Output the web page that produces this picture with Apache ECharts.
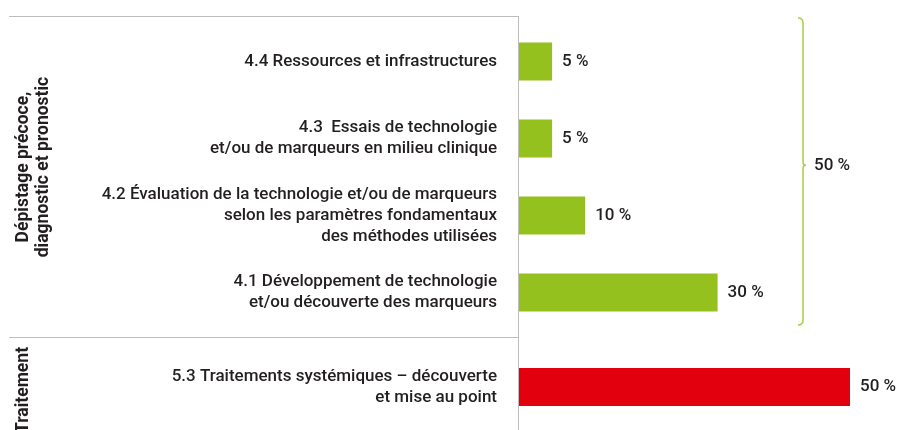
<!DOCTYPE html>
<html>
<head>
<meta charset="utf-8">
<script src="https://cdn.jsdelivr.net/npm/echarts@6/dist/echarts.min.js"></script>
<style>
  html, body { margin: 0; padding: 0; background: #fff; }
  #chart { width: 898px; height: 430px; }
</style>
</head>
<body>
<div id="chart"></div>
<script>
// données
var depistageCategories = [
    '4.4 Ressources et infrastructures',
    '4.3  Essais de technologie\net/ou de marqueurs en milieu clinique',
    '4.2 Évaluation de la technologie et/ou de marqueurs\nselon les paramètres fondamentaux\ndes méthodes utilisées',
    '4.1 Développement de technologie\net/ou découverte des marqueurs'
];
var depistageValues = [5, 5, 10, 30];
var traitementCategories = ['5.3 Traitements systémiques – découverte\net mise au point'];
var traitementValues = [50];
var groupNames = ['Dépistage précoce,\ndiagnostic et pronostic', 'Traitement'];
var depistageTotal = 50;

var GREEN = '#95c11f';
var RED = '#e2000f';
var BRACE = '#a6cf4a';
var TEXT = '#231f20';
var LINE = '#bdbdbd';
var FONT = 'Roboto';

var myChart = echarts.init(document.getElementById('chart'));

var labelStyle = {
    fontFamily: FONT,
    fontSize: 17,
    fontWeight: 500,
    color: TEXT,
    lineHeight: 21
};

function catAxis(idx, cats, name, gap, pad) {
    return {
        type: 'category',
        gridIndex: idx,
        inverse: true,
        data: cats,
        axisLine: { show: false },
        axisTick: { show: false },
        axisLabel: Object.assign({ margin: 22, align: 'right' }, labelStyle),
        name: name,
        nameLocation: 'middle',
        nameRotate: 90,
        nameGap: gap,
        nameTextStyle: {
            fontFamily: FONT,
            fontSize: 17.5,
            fontWeight: 'bold',
            color: TEXT,
            lineHeight: 20,
            padding: pad
        }
    };
}

function valAxis(idx) {
    return {
        type: 'value',
        gridIndex: idx,
        min: 0,
        max: 50,
        show: false
    };
}

// accolade pour le total du groupe
function renderBrace(params, api) {
    var cs = params.coordSys;
    var band = api.size([0, 1])[1];
    var top = api.coord([0, 0])[1] - band / 2 - 5;
    var bottom = api.coord([0, depistageCategories.length - 1])[1] + band / 2 - 6;
    var x = cs.x + 284;
    var tip = top + (bottom - top) * 0.48;
    var r = 5;
    var d = 'M' + (x - r) + ' ' + top +
        ' Q' + x + ' ' + top + ' ' + x + ' ' + (top + r) +
        ' L' + x + ' ' + (tip - 3) +
        ' Q' + x + ' ' + tip + ' ' + (x + 3) + ' ' + tip +
        ' Q' + x + ' ' + tip + ' ' + x + ' ' + (tip + 3) +
        ' L' + x + ' ' + (bottom - r) +
        ' Q' + x + ' ' + bottom + ' ' + (x - r) + ' ' + bottom;
    return {
        type: 'group',
        children: [{
            type: 'path',
            shape: { pathData: d },
            style: { fill: 'none', stroke: BRACE, lineWidth: 1.5 }
        }, {
            type: 'text',
            style: {
                x: x + 11,
                y: tip,
                text: api.value(0) + ' %',
                fill: TEXT,
                font: '500 17px ' + FONT,
                verticalAlign: 'middle'
            }
        }]
    };
}

var option = {
    animation: false,
    grid: [
        { left: 519, top: 23, width: 331, height: 308, outerBoundsMode: 'none' },
        { left: 519, top: 344, width: 331, height: 86, outerBoundsMode: 'none' }
    ],
    xAxis: [valAxis(0), valAxis(1)],
    yAxis: [
        catAxis(0, depistageCategories, groupNames[0], 465, [0, 0, 0, 20]),
        catAxis(1, traitementCategories, groupNames[1], 485, [0, 6, 0, 0])
    ],
    graphic: [
        { type: 'line', shape: { x1: 9, y1: 16.5, x2: 519, y2: 16.5 }, style: { stroke: LINE, lineWidth: 1 } },
        { type: 'line', shape: { x1: 9, y1: 337.5, x2: 519, y2: 337.5 }, style: { stroke: LINE, lineWidth: 1 } },
        { type: 'line', shape: { x1: 518.5, y1: 16, x2: 518.5, y2: 430 }, style: { stroke: LINE, lineWidth: 1 } }
    ],
    series: [{
        type: 'bar',
        xAxisIndex: 0,
        yAxisIndex: 0,
        data: depistageValues,
        barWidth: 38,
        itemStyle: { color: GREEN },
        label: Object.assign({ show: true, position: 'right', distance: 10, formatter: '{c} %' }, labelStyle)
    }, {
        type: 'bar',
        xAxisIndex: 1,
        yAxisIndex: 1,
        data: traitementValues,
        barWidth: 38,
        itemStyle: { color: RED },
        label: Object.assign({ show: true, position: 'right', distance: 10, formatter: '{c} %' }, labelStyle)
    }, {
        type: 'custom',
        xAxisIndex: 0,
        yAxisIndex: 0,
        data: [[depistageTotal]],
        renderItem: renderBrace,
        silent: true
    }]
};

myChart.setOption(option);
</script>
</body>
</html>
